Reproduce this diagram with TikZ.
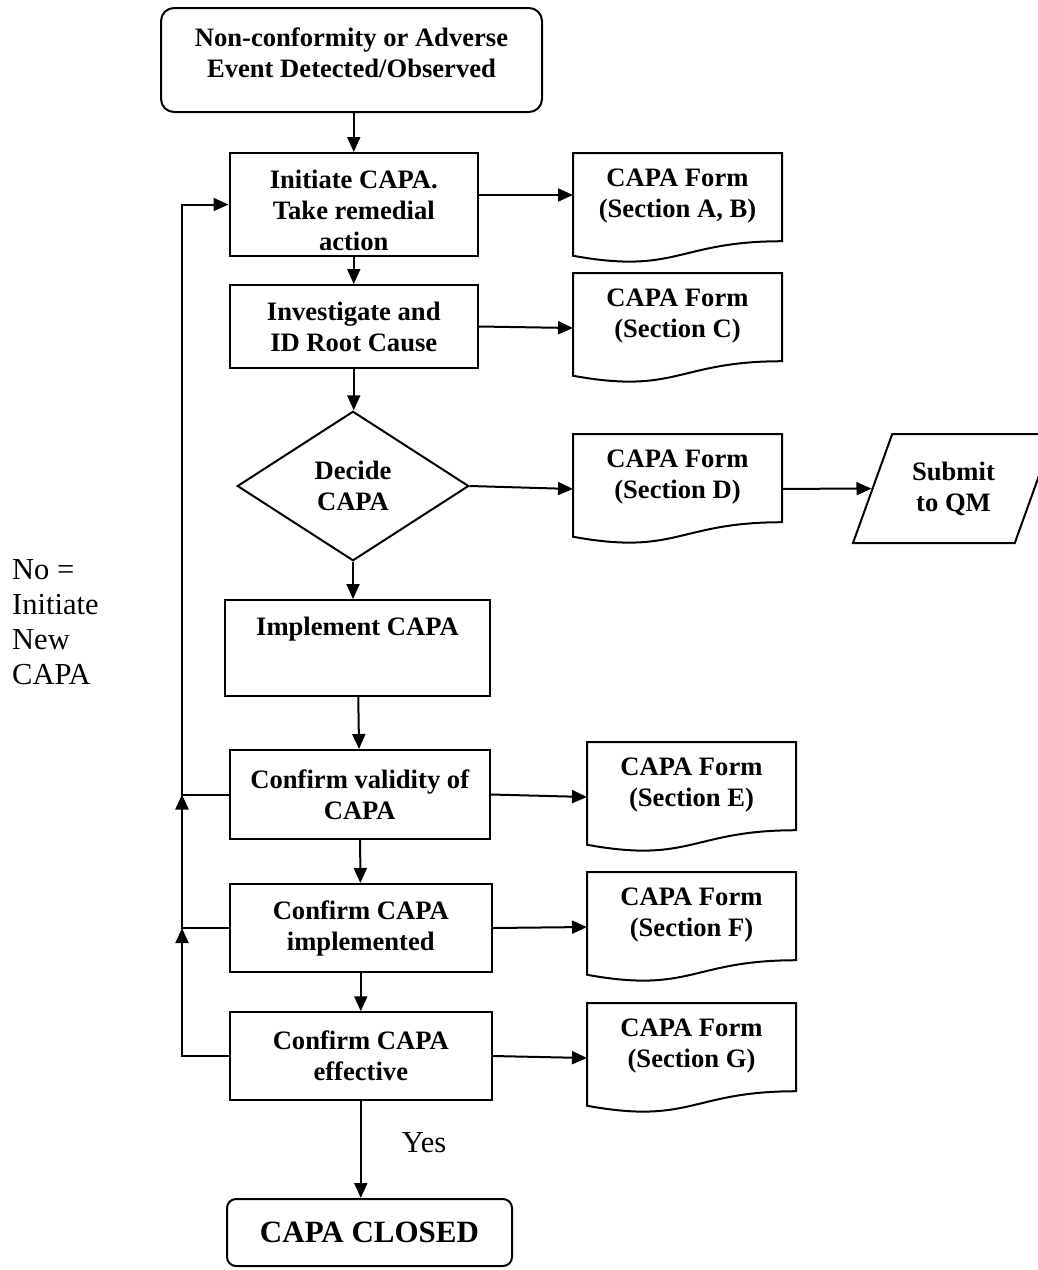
\documentclass[tikz,border=0pt]{standalone}
\usepackage{fontspec}
\setmainfont{Liberation Serif}
\usetikzlibrary{arrows.meta, shapes.geometric, calc}
\newcommand{\flowfont}{\fontsize{26.6}{31}\selectfont\bfseries}
\newcommand{\notefont}{\fontsize{30.5}{35}\selectfont}
\newcommand{\closefont}{\fontsize{31}{36}\selectfont\bfseries}

\begin{document}
\begin{tikzpicture}[
  x=1pt, y=-1pt,
  line/.style={line width=2pt},
  arr/.style={-{Triangle[length=15pt, width=13pt]}, line width=2pt},
  term/.style={rectangle, draw, line width=2pt, align=center, inner sep=0pt},
  stepbox/.style={rectangle, draw, line width=2pt, align=center, font=\flowfont, inner sep=0pt},
  decision/.style={diamond, draw, line width=2pt, align=center, font=\flowfont, inner sep=0pt, aspect=1.55},
  outlet/.style={trapezium, trapezium left angle=70, trapezium right angle=110, trapezium stretches body,
                 draw, line width=2pt, align=center, font=\flowfont, inner xsep=0pt, inner ysep=27pt},
  formtext/.style={anchor=north, align=center, font=\flowfont, inner sep=0pt, yshift=-16pt},
  form/.style={rectangle, minimum width=209pt, minimum height=110pt, inner sep=0pt, outer sep=0pt,
    append after command={\pgfextra{\draw[line]
      (\tikzlastnode.north west) -- (\tikzlastnode.north east)
      -- ($(\tikzlastnode.north east)!0.802!(\tikzlastnode.south east)$)
      .. controls ($(\tikzlastnode.north)!0.802!(\tikzlastnode.south)$)
      and ($(\tikzlastnode.north)!1.1075!(\tikzlastnode.south)$)
      .. ($(\tikzlastnode.north west)!0.934!(\tikzlastnode.south west)$) -- cycle;}}},
  note/.style={align=left, font=\notefont, inner sep=0pt},
]
\useasboundingbox (0,0) rectangle (1037,1270);

% main column
\node[term, rounded corners=13pt, font=\flowfont, minimum width=381pt, minimum height=104pt] (detect) at (351.5,60)
  {Non-conformity or Adverse\\Event Detected/Observed\rule[-15pt]{0pt}{0pt}};
\node[stepbox, minimum width=248.5pt, minimum height=103pt] (init) at (353.75,204.5)
  {\rule{0pt}{30pt}Initiate CAPA.\\Take remedial\\action};
\node[stepbox, minimum width=248.5pt, minimum height=83pt] (invest) at (353.75,326.5)
  {Investigate and\\ID Root Cause};
\node[decision, minimum width=231.5pt, minimum height=149.5pt] (decide) at (353,486) {Decide\\CAPA};
\node[stepbox, minimum width=264.5pt, minimum height=96pt, text depth=44pt] (implement) at (357.5,648)
  {Implement CAPA};
\node[stepbox, minimum width=260.5pt, minimum height=89pt] (validity) at (359.75,794.5)
  {Confirm validity of\\CAPA};
\node[stepbox, minimum width=261.6pt, minimum height=88pt] (confimpl) at (360.8,928)
  {Confirm CAPA\\implemented};
\node[stepbox, minimum width=261.6pt, minimum height=87.5pt] (confeff) at (360.8,1056)
  {Confirm CAPA\\effective};
\node[term, rounded corners=9pt, font=\closefont, minimum width=285pt, minimum height=67pt] (closed) at (369.5,1232.5)
  {CAPA CLOSED};

% CAPA forms
\node[form, label={[formtext]north:CAPA Form\\(Section A, B)}] (formab) at (677.5,208) {};
\node[form, label={[formtext]north:CAPA Form\\(Section C)}] (formc) at (677.5,328) {};
\node[form, label={[formtext]north:CAPA Form\\(Section D)}] (formd) at (677.5,489) {};
\node[form, label={[formtext]north:CAPA Form\\(Section E)}] (forme) at (691.5,797) {};
\node[form, label={[formtext]north:CAPA Form\\(Section F)}] (formf) at (691.5,927) {};
\node[form, label={[formtext]north:CAPA Form\\(Section G)}] (formg) at (691.5,1058) {};
\node[outlet, minimum width=201pt, minimum height=109pt] (submit) at (953.5,488.5) {Submit\\to QM};

\node[note, anchor=west] (nonote) at (12,622) {No =\\Initiate\\New\\CAPA};

\draw[arr] (init.north |- detect.south) -- (init.north);
\draw[arr] (init) -- (invest);
\draw[arr] (invest.south) -- (invest.south |- decide.north);
\draw[arr] (decide.south) -- (decide.south |- implement.north);
\draw[arr] (implement) -- (validity);
\draw[arr] (validity) -- (confimpl);
\draw[arr] (confimpl) -- (confeff);
\draw[arr] (confeff.south) -- node[pos=0.43, anchor=west, xshift=40pt, font=\notefont, inner sep=0pt] (yes) {Yes}
  (confeff.south |- closed.north);

\draw[arr] ([yshift=9.5pt]init.east) -- ([yshift=13pt]formab.west);
\draw[arr] (invest.east) -- (formc.west);
\draw[arr] (decide.east) -- (formd.west);
\draw[arr] (formd) -- (submit);
\draw[arr] (validity.east) -- (forme.west);
\draw[arr] (confimpl.east) -- (formf.west);
\draw[arr] (confeff.east) -- (formg.west);

% loop back: no = initiate new CAPA
\coordinate (rail) at (182,0);
\draw[arr] (validity.west) -- (validity.west -| rail) |- (init.west);
\draw[arr] (confimpl.west) -| (validity.west -| rail);
\draw[arr] (confeff.west) -| (confimpl.west -| rail);
\end{tikzpicture}
\end{document}
